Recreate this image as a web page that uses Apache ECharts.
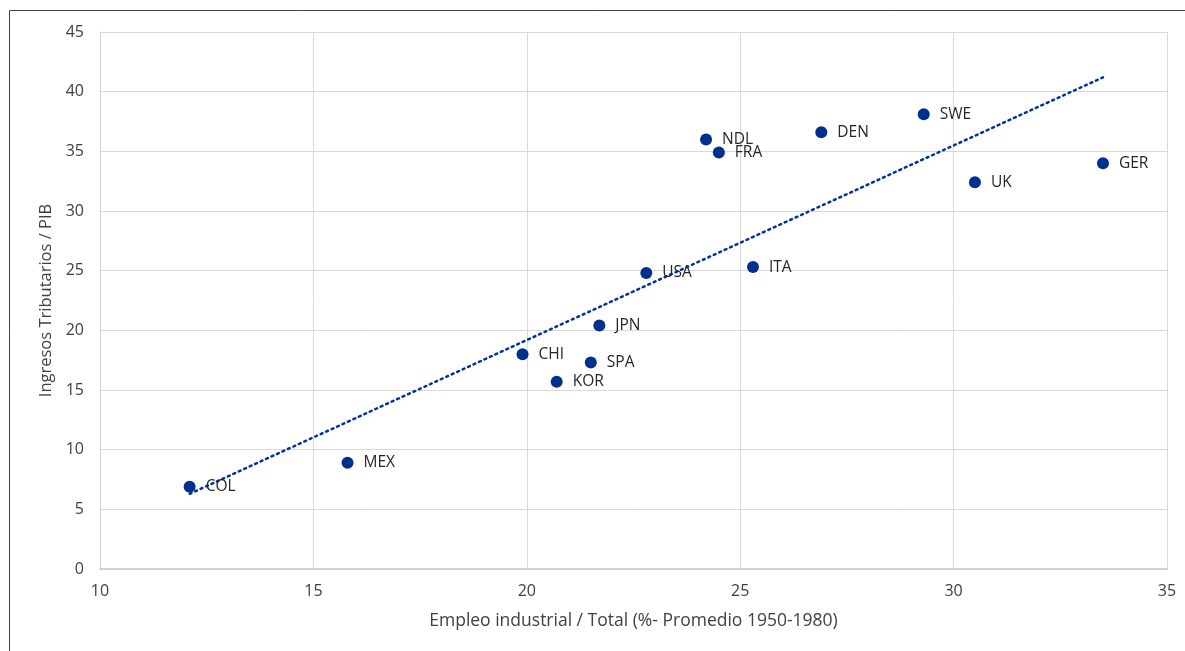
<!DOCTYPE html>
<html>
<head>
<meta charset="utf-8">
<script src="https://cdn.jsdelivr.net/npm/echarts@6/dist/echarts.min.js"></script>
<style>html,body{margin:0;padding:0;background:#fff}#c{width:1185px;height:651px}</style>
</head>
<body>
<div id="c"></div>
<script>
const countries = ['COL','MEX','CHI','KOR','SPA','JPN','USA','NDL','FRA','ITA','DEN','SWE','UK','GER'];
const empleo = [12.1, 15.8, 19.9, 20.7, 21.5, 21.7, 22.8, 24.2, 24.5, 25.3, 26.9, 29.3, 30.5, 33.5];
const ingresos = [6.9, 8.9, 18.0, 15.7, 17.3, 20.4, 24.8, 36.0, 34.9, 25.3, 36.6, 38.1, 32.4, 34.0];
const trendX = [12.1, 33.5];
const trendY = [6.3, 41.2];

const font = 'Open Sans, Liberation Sans, sans-serif';
const chart = echarts.init(document.getElementById('c'), null, {renderer: 'canvas'});
chart.setOption({
  animation: false,
  backgroundColor: '#fff',
  graphic: [{
    type: 'rect', shape: {x: 9.5, y: 10.5, width: 1200, height: 700},
    style: {fill: 'none', stroke: '#404040', lineWidth: 1}, silent: true
  }],
  grid: {left: 100, right: 18, top: 32, bottom: 82},
  xAxis: {
    type: 'value', min: 10, max: 35, interval: 5,
    name: 'Empleo industrial / Total (%- Promedio 1950-1980)',
    nameLocation: 'middle', nameGap: 43,
    nameTextStyle: {color: '#404040', fontSize: 17.5, fontFamily: font},
    axisLine: {show: true, lineStyle: {color: '#c8c8c8', width: 1.5}},
    axisTick: {show: false},
    axisLabel: {color: '#404040', fontSize: 16, fontFamily: font, margin: 14},
    splitLine: {show: true, lineStyle: {color: '#d9d9d9', width: 1}}
  },
  yAxis: {
    type: 'value', min: 0, max: 45, interval: 5,
    name: 'Ingresos Tributarios / PIB',
    nameLocation: 'middle', nameGap: 44,
    nameTextStyle: {color: '#404040', fontSize: 16.5, fontFamily: font},
    axisLine: {show: true, lineStyle: {color: '#d0d0d0', width: 1}},
    axisTick: {show: false},
    axisLabel: {color: '#404040', fontSize: 16, fontFamily: font, margin: 16},
    splitLine: {show: true, lineStyle: {color: '#d9d9d9', width: 1}}
  },
  series: [
    {
      type: 'line',
      data: trendX.map((x, i) => [x, trendY[i]]),
      symbol: 'none',
      lineStyle: {color: '#0033a0', width: 2.5, type: [2, 4], cap: 'round'},
      z: 1
    },
    {
      type: 'scatter',
      data: empleo.map((x, i) => [x, ingresos[i], countries[i]]),
      symbolSize: 12,
      itemStyle: {color: '#00308f', opacity: 1},
      label: {
        show: true, position: 'right', distance: 10,
        formatter: p => p.data[2],
        color: '#262626', fontSize: 15.5, fontFamily: font, padding: [3, 0, 0, 0]
      },
      z: 3
    }
  ]
});
</script>
</body>
</html>
